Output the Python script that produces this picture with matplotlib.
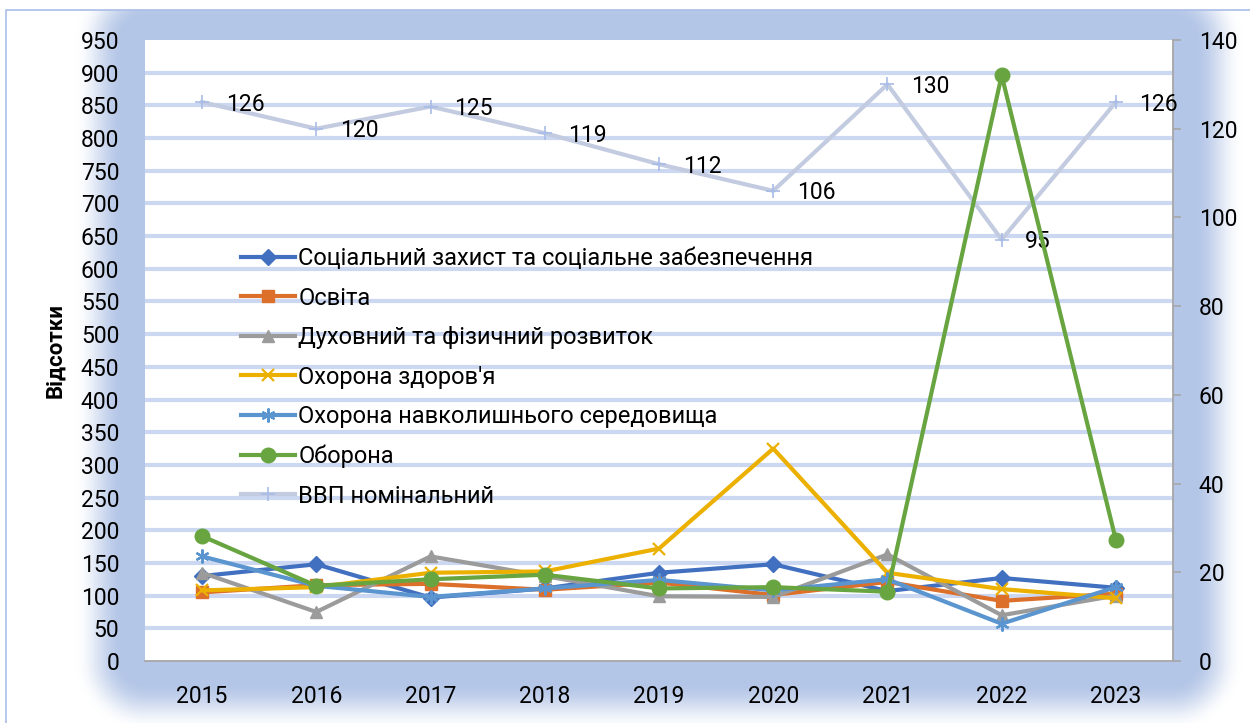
import numpy as np
import matplotlib
matplotlib.use("Agg")
import matplotlib.pyplot as plt
from matplotlib.ticker import FixedLocator

plt.rcParams['font.family'] = ['Roboto', 'DejaVu Sans']

# ---------------- data ----------------
years = ['2015', '2016', '2017', '2018', '2019', '2020', '2021', '2022', '2023']
social = [130, 148, 97, 111, 135, 148, 107, 127, 112]
education = [105, 116, 118, 109, 120, 101, 121, 92, 103]
spiritual = [135, 75, 160, 130, 99, 98, 163, 70, 100]
health = [108, 113, 135, 137, 172, 325, 135, 110, 96]
environment = [160, 115, 98, 111, 124, 108, 125, 57, 113]
defense = [191, 115, 125, 132, 111, 113, 106, 896, 185]
gdp = [126, 120, 125, 119, 112, 106, 130, 95, 126]

names = ['Соціальний захист та соціальне забезпечення', 'Освіта',
         'Духовний та фізичний розвиток', "Охорона здоров'я",
         'Охорона навколишнього середовища', 'Оборона']
gdp_name = 'ВВП номінальний'
left_ticks = list(range(0, 951, 50))
right_ticks = list(range(0, 141, 20))

# ---------------- style ----------------
W, H = 1250, 723
fig = plt.figure(figsize=(W / 100, H / 100), dpi=100)

# plot-area rectangle in pixels
px0, px1, py0, py1 = 145, 1173, 40, 661

# background glow
bg = fig.add_axes([0, 0, 1, 1], zorder=-10)
yy, xx = np.mgrid[0:H, 0:W] + 0.5
dx = np.maximum(np.maximum(px0 - xx, xx - px1), 0)
dy = np.maximum(np.maximum(py0 - yy, yy - py1), 0)
d = np.hypot(dx, dy)
t = np.clip((d - 22) / 48.0, 0, 1)
inten = 1 - (3 * t ** 2 - 2 * t ** 3)
inten[(xx < 6) | (yy < 10)] = 0
blue = np.array([180, 198, 231]) / 255.0
img = np.ones((H, W, 3)) * (1 - inten[..., None]) + blue * inten[..., None]
bg.imshow(img, extent=(0, W, H, 0), aspect='auto', interpolation='nearest')
bg.plot([6, 6, W + 5], [H + 5, 10, 10], color='#a9bde6', lw=1.2)
bg.set_xlim(0, W)
bg.set_ylim(H, 0)
bg.axis('off')

pos = [px0 / W, 1 - py1 / H, (px1 - px0) / W, (py1 - py0) / H]
ax = fig.add_axes(pos)
ax2 = ax.twinx()
ax.set_zorder(2)
ax2.set_zorder(1)
ax.patch.set_visible(False)
ax2.patch.set_visible(True)
ax2.patch.set_facecolor('white')

x = np.arange(len(years))

colors = ['#4270c0', '#dc6f2a', '#9b9b9b', '#ebb000', '#5a95cf', '#68a540']
markers = ['D', 's', '^', 'x', (6, 2, 0), 'o']
msizes = [8, 8, 8.5, 9, 10, 10.5]
series = [social, education, spiritual, health, environment, defense]

handles = []
for vals, c, m, ms, nm in zip(series, colors, markers, msizes, names):
    mew = 1.6 if m in ('x',) or isinstance(m, tuple) else 1
    h, = ax.plot(x, vals, color=c, lw=3, marker=m, ms=ms, mec=c, mfc=c,
                 mew=mew, label=nm, solid_joinstyle='round')
    handles.append(h)

gcol = '#c2cbe0'
hg, = ax2.plot(x, gdp, color=gcol, lw=3, marker='+', ms=10, mec='#a9bce8',
               mew=1.2, label=gdp_name)
handles.append(hg)
for xi, v in zip(x, gdp):
    ax2.annotate(str(v), (xi, v), xytext=(17, -1.5), textcoords='offset points',
                 ha='left', va='center', fontsize=16.5, color='black', zorder=5)

ax.set_xlim(-0.5, len(years) - 0.5)
ax.set_ylim(0, 950)
ax2.set_ylim(0, 140)
ax.set_xticks(x)
ax.set_xticklabels(years)
ax.set_yticks(left_ticks)
ax2.set_yticks(right_ticks)

# gridlines on ax2 at left-axis steps
ax2.yaxis.set_minor_locator(FixedLocator([v * 140 / 950 for v in left_ticks[1:-1]]))
ax2.grid(True, which='minor', axis='y', color='#ccd7f1', lw=3)
ax2.tick_params(axis='y', which='minor', length=0)

ax.tick_params(axis='y', length=0, labelsize=16.5, pad=18.5)
ax.tick_params(axis='x', length=0, labelsize=16.5, pad=17)
ax2.tick_params(axis='y', which='major', length=6, width=1.2, color='#a6a6a6',
                labelsize=16.5, pad=12.5, direction='out')

for a in (ax, ax2):
    for s in ('top', 'left'):
        a.spines[s].set_visible(False)
    a.spines['right'].set_visible(a is ax2)
    a.spines['bottom'].set_visible(a is ax)
ax.spines['bottom'].set_color('#a6a6a6')
ax.spines['bottom'].set_linewidth(1.3)
ax2.spines['right'].set_color('#a6a6a6')
ax2.spines['right'].set_linewidth(1.3)

fig.text(55 / W, 1 - 350 / H, 'Відсотки', rotation=90, ha='center', va='center',
         fontsize=16, fontweight='bold')

leg = ax.legend(handles=handles, loc='upper left',
                bbox_to_anchor=((241 - px0) / (px1 - px0), (py1 - 247) / (py1 - py0)),
                frameon=False, fontsize=17, borderpad=0, borderaxespad=0,
                handlelength=2.27, handletextpad=0.15, labelspacing=0.70)

fig.savefig('out.png', dpi=100)
